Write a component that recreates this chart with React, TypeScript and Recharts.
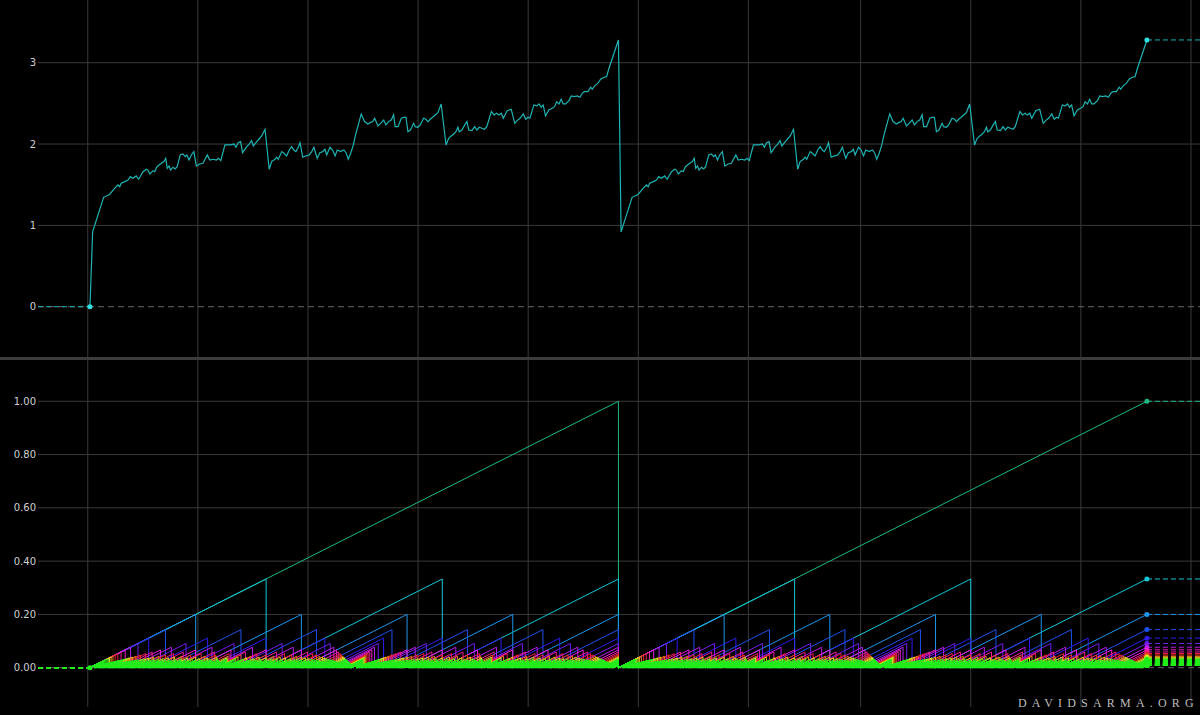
import { LineChart, Line, XAxis, YAxis, ReferenceLine, ReferenceDot } from 'recharts';

const GRID = '#3a3a3a';
const ZERO_DASH = '#666666';
const LABEL = '#cfcfcf';
const CYAN = '#1fb3b3';
const CYAN_DOT = '#2fe3e3';

// x axis is the sample index; one cycle spans 240 samples
const X_DOMAIN = [-22.6, 505.1];
const CYCLE = 240;
const START_N = 1;
const END_N = 481;
const GRID_N = [0, 50, 100, 150, 200, 250, 300, 351, 401, 451, 501];

const TOP_TICKS = [0, 1, 2, 3];
const SAW_TICKS = [0, 0.2, 0.4, 0.6, 0.8, 1];

// top panel, first cycle (the second cycle is the same shape)
const TOP_N = [
  1, 2.2, 7.2, 9.9, 12.2, 13.7, 14.5, 15.2, 16.8, 18.3, 19.3, 20.5, 22.0, 23.1, 25.1, 26.6, 27.3, 28.2, 29.6, 30.4,
  31.4, 33.4, 34.6, 35.4, 36.1, 36.9, 37.6, 38.7, 39.7, 40.6, 42.0, 43.2, 44.3, 45.0, 46.0, 47.0, 48.2, 49.3, 50.8, 52.3,
  54.3, 55.4, 56.9, 58.4, 59.4, 60.4, 62.3, 64.6, 66.4, 67.3, 68.3, 69.4, 70.3, 72.2, 73.3, 74.4, 75.2, 76.4, 77.4, 79.0,
  80.5, 82.4, 83.5, 85.0, 85.8, 86.5, 88.1, 89.1, 90.3, 91.5, 92.6, 93.6, 94.5, 95.6, 96.4, 97.6, 99.1, 100.6, 101.7, 102.7,
  104.2, 105.4, 106.7, 107.7, 108.5, 110.0, 111.2, 112.3, 113.3, 114.8, 116.3, 117.3, 118.3, 119.4, 120.6, 121.8, 124.2, 125.7, 127.2, 128.3,
  129.4, 130.3, 131.8, 133.3, 134.4, 135.4, 136.6, 137.8, 138.9, 139.6, 140.9, 142.4, 143.5, 144.5, 145.4, 146.5, 148.0, 148.7, 149.9, 151.0,
  152.5, 153.6, 154.5, 155.5, 156.6, 157.8, 159.0, 160.5, 162.7, 163.9, 165.1, 166.2, 167.2, 168.1, 168.7, 169.9, 171.2, 172.2, 173.0, 174.5,
  175.7, 176.7, 177.8, 179.0, 180.2, 181.2, 183.3, 184.5, 185.7, 186.7, 187.8, 188.7, 190.5, 192.3, 193.9, 195.0, 196.3, 197.8, 198.9, 199.9,
  200.8, 202.6, 203.9, 204.9, 205.9, 206.8, 207.9, 209.4, 210.9, 212.0, 212.9, 214.0, 215.0, 215.9, 217.0, 218.5, 219.6, 220.8, 222.3, 223.5,
  224.6, 225.6, 227.1, 228.4, 229.1, 230.2, 231.7, 232.9, 234.4, 235.6, 236.7, 241,
];
const TOP_V = [
  0, 0.92, 1.345, 1.38, 1.456, 1.497, 1.476, 1.518, 1.538, 1.558, 1.599, 1.579, 1.608, 1.567, 1.66, 1.69, 1.68, 1.632, 1.673, 1.66,
  1.722, 1.764, 1.784, 1.825, 1.702, 1.731, 1.68, 1.715, 1.694, 1.722, 1.866, 1.878, 1.845, 1.866, 1.804, 1.866, 1.907, 1.731, 1.755, 1.764,
  1.866, 1.804, 1.813, 1.804, 1.825, 1.796, 1.989, 1.989, 2.0, 1.96, 2.017, 2.03, 1.894, 1.968, 2.0, 2.042, 1.977, 2.017, 2.05, 2.1,
  2.182, 1.69, 1.784, 1.813, 1.838, 1.813, 1.907, 1.886, 1.854, 1.927, 1.968, 1.927, 1.907, 1.96, 2.017, 1.838, 1.854, 1.866, 1.907, 1.96,
  1.825, 1.894, 1.907, 1.936, 1.866, 1.96, 1.927, 1.854, 1.927, 1.907, 1.927, 1.894, 1.813, 1.886, 1.989, 2.133, 2.37, 2.276, 2.247, 2.263,
  2.276, 2.317, 2.223, 2.263, 2.296, 2.235, 2.276, 2.296, 2.358, 2.214, 2.214, 2.317, 2.329, 2.329, 2.152, 2.173, 2.255, 2.214, 2.206, 2.235,
  2.317, 2.305, 2.276, 2.305, 2.329, 2.358, 2.386, 2.493, 1.989, 2.071, 2.1, 2.124, 2.152, 2.206, 2.152, 2.173, 2.235, 2.276, 2.173, 2.165,
  2.214, 2.173, 2.206, 2.194, 2.182, 2.214, 2.399, 2.358, 2.379, 2.358, 2.379, 2.317, 2.411, 2.428, 2.255, 2.288, 2.317, 2.37, 2.305, 2.329,
  2.317, 2.481, 2.469, 2.493, 2.453, 2.481, 2.346, 2.419, 2.44, 2.46, 2.521, 2.493, 2.551, 2.493, 2.493, 2.534, 2.592, 2.583, 2.592, 2.576,
  2.625, 2.645, 2.645, 2.699, 2.674, 2.715, 2.748, 2.797, 2.822, 2.829, 2.932, 3.28,
];

// bottom panel: sawtooth series, teeth per cycle and peak height
const SAW_TEETH = [
  1, 3, 5, 7, 9, 11, 13, 15, 17, 19, 21, 23, 25, 27, 29, 31, 33, 35, 37, 39,
  41, 43, 45, 47, 49, 51, 53, 55, 57, 59, 61, 63, 65, 67, 69, 71, 73, 75, 77, 79,
  81, 83, 85, 87, 89, 91, 93, 95, 97, 99, 101, 103, 105, 107, 109, 111, 113, 115, 117, 119,
];
const SAW_PEAKS = [
  1.0, 0.333, 0.2, 0.143, 0.111, 0.091, 0.077, 0.067, 0.059, 0.053, 0.048, 0.043, 0.04, 0.037, 0.034, 0.032, 0.03, 0.029, 0.027, 0.026,
  0.024, 0.023, 0.022, 0.021, 0.02, 0.02, 0.019, 0.018, 0.018, 0.017, 0.016, 0.016, 0.015, 0.015, 0.014, 0.014, 0.014, 0.013, 0.013, 0.013,
  0.012, 0.012, 0.012, 0.011, 0.011, 0.011, 0.011, 0.011, 0.01, 0.01, 0.01, 0.01, 0.0095, 0.0093, 0.0092, 0.009, 0.0088, 0.0087, 0.0085, 0.0084,
];

const topRows = [
  ...TOP_N.map((n, i) => ({ n, v: TOP_V[i] })),
  ...TOP_N.slice(1).map((n, i) => ({ n: n + CYCLE, v: TOP_V[i + 1] })),
];
const topEnd = TOP_V[TOP_V.length - 1];

function sawRows(teeth: number, peak: number) {
  const rows: { n: number; v: number }[] = [];
  for (let c = 0; c < 2; c++) {
    for (let j = 0; j < teeth; j++) {
      rows.push({ n: START_N + c * CYCLE + (CYCLE * j) / teeth, v: 0 });
      rows.push({ n: START_N + c * CYCLE + (CYCLE * (j + 1)) / teeth, v: peak });
    }
  }
  return rows;
}

// teal for the first series, then blue, violet, magenta, red, orange, yellow, settling on green
function sawColor(i: number) {
  if (i === 0) return 'hsl(160, 72%, 42%)';
  const hue = Math.min(185 + 20 * (i - 1), 478) % 360;
  return `hsl(${hue}, 85%, ${i === 1 ? 46 : 52}%)`;
}

function YTick({ y, payload, digits }: any) {
  return (
    <text x={36} y={y} dy={3.5} textAnchor="end" fill={LABEL} fontSize={10} fontFamily="'DejaVu Sans', sans-serif">
      {Number(payload.value).toFixed(digits)}
    </text>
  );
}

export default function App() {
  return (
    <div style={{ position: 'absolute', left: 0, top: 0, width: 1200, height: 715, background: '#000', overflow: 'hidden' }}>
      <LineChart width={1200} height={357} margin={{ top: 0, right: 0, bottom: 0, left: 0 }}>
        <XAxis type="number" dataKey="n" domain={X_DOMAIN} allowDataOverflow hide />
        <YAxis
          type="number" domain={[-0.618, 3.771]} ticks={TOP_TICKS} interval={0} width={38} allowDataOverflow
          axisLine={false} tickLine={false} tick={(p: any) => <YTick {...p} digits={0} />}
        />
        {GRID_N.map((n) => <ReferenceLine key={'v' + n} x={n} stroke={GRID} />)}
        {TOP_TICKS.filter((t) => t !== 0).map((t) => <ReferenceLine key={'h' + t} y={t} stroke={GRID} />)}
        <ReferenceLine y={0} stroke={ZERO_DASH} strokeDasharray="6 4" />
        <Line data={[{ n: X_DOMAIN[0], v: 0 }, { n: START_N, v: 0 }]} dataKey="v" stroke={CYAN} strokeDasharray="5 3" dot={false} isAnimationActive={false} />
        <Line data={topRows} dataKey="v" stroke={CYAN} strokeWidth={1.2} dot={false} isAnimationActive={false} />
        <Line data={[{ n: END_N, v: topEnd }, { n: X_DOMAIN[1], v: topEnd }]} dataKey="v" stroke={CYAN} strokeDasharray="5 3" dot={false} isAnimationActive={false} />
        <ReferenceDot x={START_N} y={0} r={2.5} fill={CYAN_DOT} stroke="none" />
        <ReferenceDot x={END_N} y={topEnd} r={2.5} fill={CYAN_DOT} stroke="none" />
      </LineChart>

      <div style={{ height: 3, background: '#3c3c3c' }} />

      <LineChart width={1200} height={355} margin={{ top: 0, right: 0, bottom: 8, left: 0 }}>
        <XAxis type="number" dataKey="n" domain={X_DOMAIN} allowDataOverflow hide />
        <YAxis
          type="number" domain={[-0.1475, 1.155]} ticks={SAW_TICKS} interval={0} width={38} allowDataOverflow
          axisLine={false} tickLine={false} tick={(p: any) => <YTick {...p} digits={2} />}
        />
        {GRID_N.map((n) => <ReferenceLine key={'v' + n} x={n} stroke={GRID} />)}
        {SAW_TICKS.filter((t) => t !== 0).map((t) => <ReferenceLine key={'h' + t} y={t} stroke={GRID} />)}
        <ReferenceLine y={0} stroke={ZERO_DASH} strokeDasharray="6 4" />
        {SAW_TEETH.map((teeth, i) => (
          <Line key={'s' + teeth} data={sawRows(teeth, SAW_PEAKS[i])} dataKey="v" stroke={sawColor(i)} strokeWidth={1} dot={false} isAnimationActive={false} />
        ))}
        {SAW_TEETH.map((teeth, i) => (
          <Line key={'l' + teeth} data={[{ n: X_DOMAIN[0], v: 0 }, { n: START_N, v: 0 }]} dataKey="v" stroke={sawColor(i)} strokeDasharray="5 3" dot={false} isAnimationActive={false} />
        ))}
        {SAW_TEETH.map((teeth, i) => (
          <Line key={'r' + teeth} data={[{ n: END_N, v: SAW_PEAKS[i] }, { n: X_DOMAIN[1], v: SAW_PEAKS[i] }]} dataKey="v" stroke={sawColor(i)} strokeDasharray="5 3" dot={false} isAnimationActive={false} />
        ))}
        {SAW_TEETH.map((teeth, i) => (
          <ReferenceDot key={'d' + teeth} x={END_N} y={SAW_PEAKS[i]} r={2.5} fill={sawColor(i)} stroke="none" />
        ))}
        <ReferenceDot x={START_N} y={0} r={2.5} fill={sawColor(SAW_TEETH.length - 1)} stroke="none" />
      </LineChart>

      <div
        style={{
          position: 'absolute', left: 1018, top: 697, lineHeight: '12px', fontSize: 12, letterSpacing: '5.2px',
          fontFamily: "'Liberation Serif', serif", color: '#bdbdbd', whiteSpace: 'nowrap',
        }}
      >
        DAVIDSARMA.ORG
      </div>
    </div>
  );
}
